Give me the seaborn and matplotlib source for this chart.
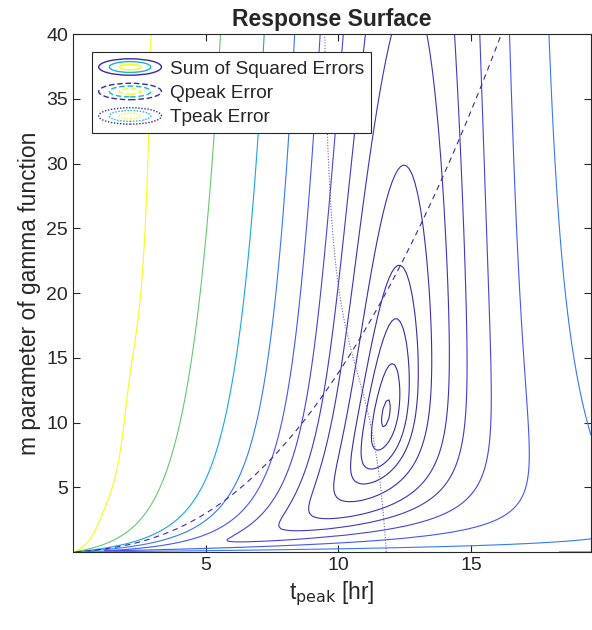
import math
import numpy as np
import matplotlib
matplotlib.use("Agg")
import matplotlib.pyplot as plt
from matplotlib.colors import LinearSegmentedColormap, Normalize
from matplotlib.legend_handler import HandlerBase
from matplotlib.patches import Ellipse
from matplotlib.lines import Line2D
import seaborn as sns

# storm data: hourly excess rainfall and observed outflow
rain_mm = [6, 5, 4, 3, 2, 2, 2, 3, 14]
q_obs = [0.0, 0.0, 0.0, 0.0, 0.1, 0.7, 2.4, 6.1, 12.3, 20.8, 31.0, 41.4, 51.2,
         59.8, 67.5, 74.8, 81.3, 97.0, 98.8, 84.0, 81.6, 73.5, 63.5, 52.8, 42.3,
         32.8, 24.6, 18.0, 12.8, 8.9, 6.1, 4.1, 2.7, 1.7, 1.1, 0.7, 0.4, 0.2, 0.1,
         0.1, 0.0, 0.0, 0.0, 0.0, 0.0, 0.0, 0.0, 0.0, 0.0]
area_km2 = 100
sse_levels = [250, 560, 1190, 2100, 4000, 7410, 11750, 18620, 29510, 46770,
              74130, 117490, 186210]

parula = LinearSegmentedColormap.from_list("parula", [
    (0.2422, 0.1504, 0.6603), (0.2810, 0.3228, 0.9579), (0.1786, 0.5289, 0.9682),
    (0.0689, 0.6948, 0.8394), (0.2161, 0.7843, 0.5923), (0.6720, 0.7793, 0.2227),
    (0.9970, 0.7659, 0.2199), (0.9769, 0.9839, 0.0805)])

dt = 0.05
t = np.arange(0, 50 + dt, dt)
tm = t[1:] - dt / 2
step = int(round(1 / dt))
obs = np.array(q_obs)
obs_t = np.arange(len(obs), dtype=float)


def gamma_uh_flow(tp, m):
    # outflow for gamma unit hydrograph (peak time tp, shape m)
    tp = np.atleast_1d(tp)[:, None]
    k = m + 1
    th = tp / m
    lp = (k - 1) * np.log(tm[None, :]) - tm[None, :] / th - math.lgamma(k) - k * np.log(th)
    p = np.exp(lp) * dt
    inside = (k * th + 6 * np.sqrt(k) * th) < t[-1]
    p = np.where(inside, p / np.maximum(p.sum(axis=1, keepdims=True), 1e-300), p)
    F = np.concatenate([np.zeros((tp.shape[0], 1)), np.cumsum(p, axis=1)], axis=1)
    n = F.shape[1]
    w = np.diff(np.concatenate([[0], rain_mm, [0]]))
    Q = np.zeros_like(F)
    for j, wj in enumerate(w):
        Q[:, j * step:] += wj * F[:, :n - j * step]
    return Q * area_km2 / 3.6


def peak(Q, tt):
    i = np.clip(Q.argmax(axis=1), 1, Q.shape[1] - 2)
    rr = np.arange(Q.shape[0])
    y0, y1, y2 = Q[rr, i - 1], Q[rr, i], Q[rr, i + 1]
    den = y0 - 2 * y1 + y2
    off = np.where(np.abs(den) > 1e-12, 0.5 * (y0 - y2) / np.where(den == 0, 1, den), 0)
    return y1 - 0.25 * (y0 - y2) * off, tt[i] + off * (tt[1] - tt[0])


qobs, tobs = peak(obs[None, :], obs_t)

tps = np.linspace(0.05, 19.52, 180)
ms = np.concatenate([np.linspace(0.01, 1, 40), np.linspace(1.05, 40, 160)])
sse = np.zeros((len(ms), len(tps)))
q_err = np.zeros_like(sse)
t_err = np.zeros_like(sse)
for i, m in enumerate(ms):
    Q = gamma_uh_flow(tps, m)
    sse[i] = ((Q[:, ::step][:, :len(obs)] - obs) ** 2).sum(axis=1)
    qp, tpk = peak(Q, t)
    q_err[i] = qp - qobs[0]
    t_err[i] = tpk - tobs[0]

sns.set_style("ticks", {"xtick.direction": "in", "ytick.direction": "in"})
plt.rcParams["font.family"] = ["Liberation Sans", "DejaVu Sans"]

fig = plt.figure(figsize=(5.92, 6.3), dpi=100)
ax = fig.add_axes([0.1233, 0.1238, 0.875, 0.8222])
norm = Normalize(min(sse_levels), max(sse_levels))
ax.contour(tps, ms, sse, levels=sse_levels, cmap=parula, norm=norm, linewidths=0.8)
ax.contour(tps, ms, q_err, levels=[0], colors=[parula(0.0)], linestyles=[(0, (5, 4))], linewidths=0.8)
ax.contour(tps, ms, t_err, levels=[0], colors=[(0.42, 0.38, 0.78)], linestyles=[(0, (1, 1.5))], linewidths=0.8)
ax.set_xlim(0, 19.52)
ax.set_ylim(0, 40)
ax.set_xticks([5, 10, 15])
ax.set_yticks(range(5, 41, 5))
ax.tick_params(labelsize=14, top=True, right=True, length=5, width=0.8, color="0.15", labelcolor="0.15")
for s in ax.spines.values():
    s.set_color("0.15")
    s.set_linewidth(0.8)
ax.set_title("Response Surface", fontsize=16.5, fontweight="bold", pad=6)
ax.set_xlabel(r"t$_{\rm peak}$ [hr]", fontsize=16.4, color="0.15")
ax.set_ylabel("m parameter of gamma function", fontsize=16.4, color="0.15")


class ContourIcon(HandlerBase):
    def __init__(self, ls):
        super().__init__()
        self.ls = ls

    def create_artists(self, legend, orig_handle, xdescent, ydescent, width, height, fontsize, trans):
        cx, cy = width / 2 - xdescent, height / 2 - ydescent
        out = []
        for f, c in zip([1.0, 0.66, 0.34], [parula(0.0), parula(0.45), parula(1.0)]):
            out.append(Ellipse((cx, cy), width * f, height * f, fill=False, edgecolor=c,
                               linestyle=self.ls, linewidth=1.0, transform=trans))
        return out


h = [Line2D([], []), Line2D([], []), Line2D([], [])]
leg = ax.legend(h, ["Sum of Squared Errors", "Qpeak Error", "Tpeak Error"],
                handler_map={h[0]: ContourIcon("-"), h[1]: ContourIcon((0, (4, 2))), h[2]: ContourIcon((0, (1, 1.2)))},
                loc="upper left", bbox_to_anchor=(0.0367, 0.965), borderaxespad=0, fontsize=13.7,
                handlelength=3.3, handleheight=0.95, handletextpad=0.45, labelspacing=0.3,
                borderpad=0.35, fancybox=False, framealpha=1)
leg.get_frame().set_edgecolor("0.15")
leg.get_frame().set_linewidth(0.8)
fig.savefig("out.png")
